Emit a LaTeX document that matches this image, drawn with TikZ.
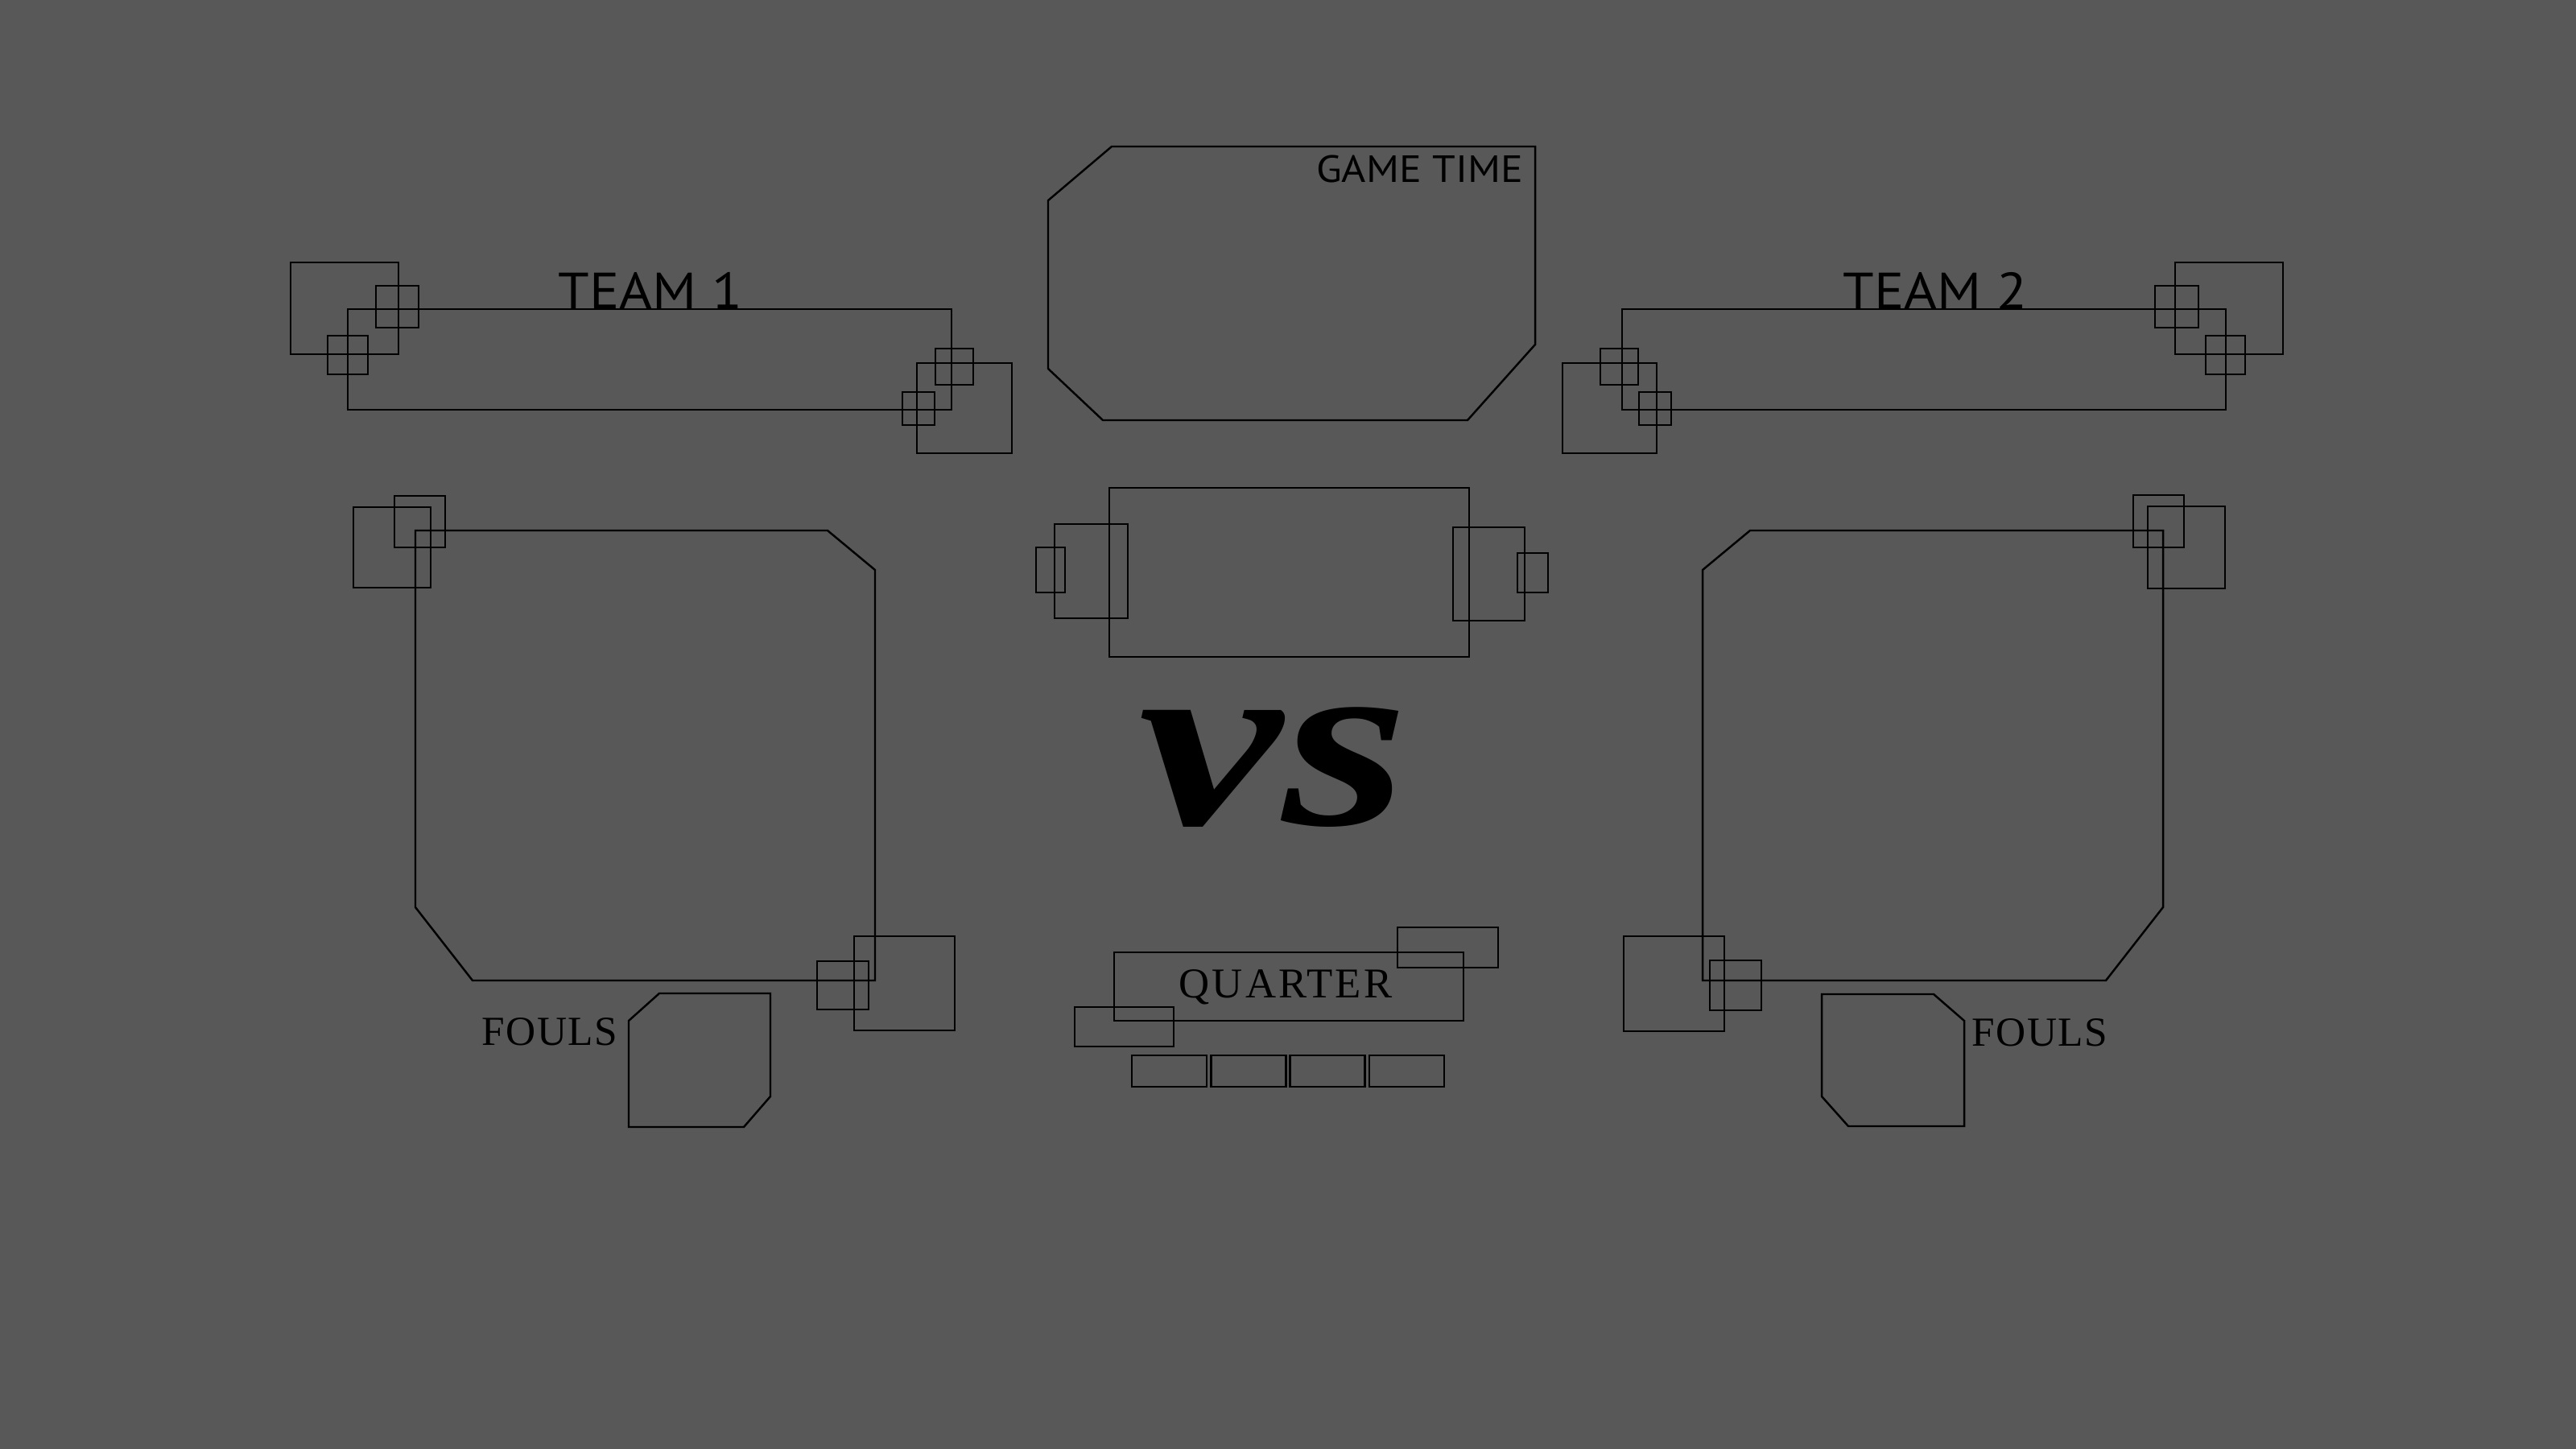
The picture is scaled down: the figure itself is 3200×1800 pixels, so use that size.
\documentclass[tikz,border=0pt]{standalone}
\usepackage{fontspec}
\setmainfont{Liberation Serif}
\newfontfamily\labelfont{PT Sans}[FakeStretch=1.1]
\newfontfamily\spacedfont{Liberation Serif}[LetterSpace=6]
\newfontfamily\foulsfont{Liberation Serif}[LetterSpace=3]

\definecolor{board}{RGB}{88,88,88}

\begin{document}
\begin{tikzpicture}[x=0.01cm, y=-0.01cm]
   \tikzstyle{frame}=[draw=black, line width=0.7pt]
   \tikzstyle{title}=[inner sep=0, anchor=base, font=\labelfont\fontsize{18}{18}\selectfont]
   \tikzstyle{caption}=[inner sep=0, anchor=base, font=\spacedfont\fontsize{15}{15}\selectfont]

\fill[board] (0,0) rectangle (3200,1800);

% team panels
\draw[frame] (432,384) rectangle (1182,509);
\draw[frame] (361,326) rectangle (495,440);
\draw[frame] (467,355) rectangle (520,407);
\draw[frame] (407,417) rectangle (457,465);
\draw[frame] (1162,433) rectangle (1209,478);
\draw[frame] (1139,451) rectangle (1257,563);
\draw[frame] (1121,487) rectangle (1161,528);

\draw[frame] (2015,384) rectangle (2765,509);
\draw[frame] (2702,326) rectangle (2836,440);
\draw[frame] (2677,355) rectangle (2731,407);
\draw[frame] (2740,417) rectangle (2789,465);
\draw[frame] (1988,433) rectangle (2035,478);
\draw[frame] (1941,451) rectangle (2058,563);
\draw[frame] (2036,487) rectangle (2076,528);

\node[title] (team1) at (808,383) {TEAM 1};
\node[title] (team2) at (2404,383) {TEAM 2};

% clock
\draw[frame] (1381,182) -- (1907,182) -- (1907,428) -- (1823,522) -- (1370,522) -- (1302,458) -- (1302,249) -- cycle;
\node[title, anchor=base east, font=\labelfont\fontsize{13.4}{13.4}\selectfont] (gametime) at (1893,227) {GAME TIME};

% field
\draw[frame] (1378,606) rectangle (1825,816);
\draw[frame] (1310,651) rectangle (1401,768);
\draw[frame] (1287,680) rectangle (1323,736);
\draw[frame] (1805,655) rectangle (1894,771);
\draw[frame] (1885,687) rectangle (1923,736);

\node[inner sep=0, xscale=1.3, font=\bfseries\itshape\fontsize{88}{88}\selectfont] (vs) at (1582,953) {vs};

% quarter
\draw[frame] (1384,1183) rectangle (1818,1268);
\draw[frame] (1736,1152) rectangle (1861,1202);
\draw[frame] (1335,1251) rectangle (1458,1300);
\foreach \i in {0,...,3}
   \draw[frame] (1406+98.3*\i,1311) rectangle +(93,39);
\node[caption] (quarter) at (1597,1239) {QUARTER};

% score boxes
\draw[frame] (516,659) -- (1028,659) -- (1087,708) -- (1087,1218) -- (587,1218) -- (516,1127) -- cycle;
\draw[frame] (439,630) rectangle (535,730);
\draw[frame] (490,616) rectangle (553,680);
\draw[frame] (1015,1194) rectangle (1079,1254);
\draw[frame] (1061,1163) rectangle (1186,1280);
\draw[frame] (781,1268) -- (819,1234) -- (957,1234) -- (957,1362) -- (924,1400) -- (781,1400) -- cycle;
\node[caption, anchor=base west, font=\foulsfont\fontsize{14.6}{14.6}\selectfont] (fouls1) at (598,1298) {FOULS};

\draw[frame] (2174,659) -- (2687,659) -- (2687,1127) -- (2616,1218) -- (2115,1218) -- (2115,708) -- cycle;
\draw[frame] (2650,615) rectangle (2713,680);
\draw[frame] (2668,629) rectangle (2764,731);
\draw[frame] (2017,1163) rectangle (2142,1281);
\draw[frame] (2124,1193) rectangle (2188,1255);
\draw[frame] (2263,1235) -- (2402,1235) -- (2440,1268) -- (2440,1399) -- (2296,1399) -- (2263,1362) -- cycle;
\node[caption, anchor=base west, font=\foulsfont\fontsize{14.6}{14.6}\selectfont] (fouls2) at (2449,1299) {FOULS};

\end{tikzpicture}
\end{document}
